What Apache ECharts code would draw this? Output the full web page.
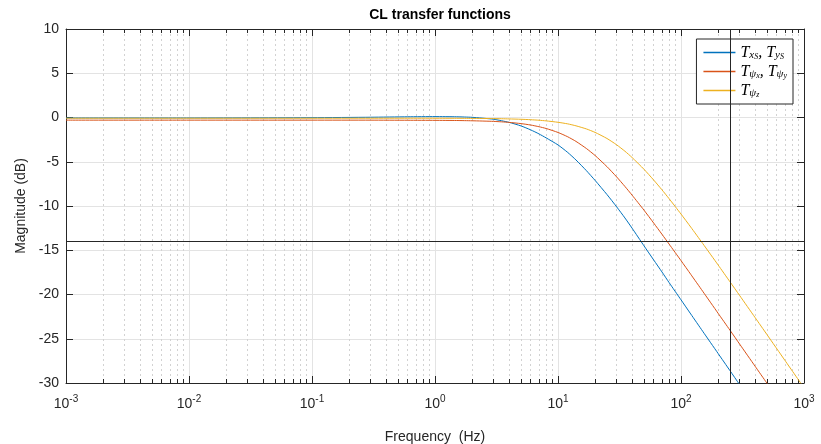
<!DOCTYPE html>
<html><head><meta charset="utf-8">
<script src="https://cdn.jsdelivr.net/npm/echarts@6/dist/echarts.min.js"></script>
<style>html,body{margin:0;padding:0;background:#fff}#c{width:821px;height:444px}</style>
</head><body><div id="c"></div><script>
// ---- data ----
const freqHz = [0.001, 0.01, 0.1, 0.3, 0.6, 1, 1.5, 2, 3, 4, 5, 6, 7, 8, 10, 12, 14, 17, 20, 25, 30, 35, 40, 50, 60, 70, 80, 100, 120, 150, 200, 250, 300, 400, 500, 700, 1000];
const magTxy = [-0.05, -0.05, -0.02, 0.03, 0.08, 0.1, 0.08, 0.02, -0.2, -0.55, -0.95, -1.4, -1.85, -2.3, -3.1, -3.95, -4.8, -6.0, -7.1, -8.7, -10.1, -11.35, -12.5, -14.5, -16.1, -17.45, -18.65, -20.6, -22.2, -24.15, -26.65, -28.6, -30.2, -32.7, -34.65, -37.55, -40.65];
const magTpsixy = [-0.3, -0.3, -0.3, -0.3, -0.31, -0.32, -0.34, -0.37, -0.44, -0.55, -0.69, -0.85, -1.04, -1.24, -1.69, -2.18, -2.7, -3.5, -4.29, -5.55, -6.72, -7.79, -8.77, -10.47, -11.93, -13.19, -14.3, -16.17, -17.72, -19.63, -22.11, -24.03, -25.61, -28.1, -30.03, -32.96, -36.06];
const magTpsiz = [-0.08, -0.08, -0.08, -0.08, -0.08, -0.085, -0.09, -0.1, -0.12, -0.16, -0.2, -0.25, -0.31, -0.38, -0.54, -0.72, -0.94, -1.29, -1.68, -2.37, -3.09, -3.81, -4.52, -5.85, -7.07, -8.17, -9.17, -10.91, -12.38, -14.23, -16.65, -18.56, -20.12, -22.6, -24.53, -27.45, -30.54];
const seriesNames = ['Txy', 'Tpsixy', 'Tpsiz'];
const legendLabels = {
  Txy: '{m|T}{s|x}{ss|S}{m|, T}{s|y}{ss|S}',
  Tpsixy: '{m|T}{s|ψ}{ss|x}{m|, T}{s|ψ}{ss|y}',
  Tpsiz: '{m|T}{s|ψ}{ss|z}'
};
const refLevelDb = -14;
const refFreqHz = 250;
const decades = [0.001, 0.01, 0.1, 1, 10, 100];
const minorMult = [2, 3, 4, 5, 6, 7, 8, 9];
const minorFreq = [];
decades.forEach(d => minorMult.forEach(m => minorFreq.push(+(d * m).toPrecision(3))));

// ---- chart ----
const FONT = '"Liberation Sans", Arial, Helvetica, sans-serif';
const SERIF = '"Liberation Serif", "DejaVu Serif", serif';
const INK = '#262626';
const colors = ['#0072BD', '#D95319', '#EDB120'];
const pairs = arr => freqHz.map((f, i) => [f, arr[i]]);

const chart = echarts.init(document.getElementById('c'), null, {renderer: 'canvas'});
const logBase = {type: 'log', logBase: 10, min: 0.001, max: 1000, gridIndex: 0};
chart.setOption({
  animation: false,
  backgroundColor: '#fff',
  title: {
    text: 'CL transfer functions', left: 435, textAlign: 'center', top: 3,
    textStyle: {fontFamily: FONT, fontSize: 14, fontWeight: 'bold', color: '#000'}
  },
  grid: {left: 66, right: 17, top: 29, bottom: 61, containLabel: false, outerBoundsMode: 'none'},
  legend: {
    data: seriesNames, orient: 'vertical', right: 28, top: 39,
    icon: 'rect', itemWidth: 32, itemHeight: 1.5, itemGap: 2,
    padding: [5, 6, 5, 7],
    borderColor: INK, borderWidth: 1, backgroundColor: '#fff', borderRadius: 0,
    formatter: n => legendLabels[n],
    textStyle: {
      color: '#000', lineHeight: 17,
      rich: {
        m: {fontFamily: SERIF, fontStyle: 'italic', fontSize: 16, lineHeight: 17, color: '#000'},
        s: {fontFamily: SERIF, fontStyle: 'italic', fontSize: 11, lineHeight: 6, verticalAlign: 'bottom', color: '#000'},
        ss: {fontFamily: SERIF, fontStyle: 'italic', fontSize: 8, lineHeight: 2, verticalAlign: 'bottom', color: '#000'}
      }
    }
  },
  xAxis: [
    Object.assign({}, logBase, {
      position: 'bottom',
      axisLine: {show: true, onZero: false, lineStyle: {color: INK, width: 1}},
      axisTick: {show: true, inside: true, length: 7, lineStyle: {color: INK}},
      axisLabel: {
        margin: 11,
        formatter: v => '{b|10}{e|' + Math.round(Math.log10(v)) + '}',
        rich: {
          b: {fontFamily: FONT, fontSize: 14, color: INK, lineHeight: 20},
          e: {fontFamily: FONT, fontSize: 10, color: INK, lineHeight: 10, verticalAlign: 'top'}
        }
      },
      splitLine: {show: true, lineStyle: {color: '#e3e3e3', width: 1}},
      name: 'Frequency  (Hz)', nameLocation: 'middle', nameGap: 47,
      nameTextStyle: {fontFamily: FONT, fontSize: 14, color: INK}
    }),
    Object.assign({}, logBase, {
      position: 'top',
      axisLine: {show: true, onZero: false, lineStyle: {color: INK, width: 1}},
      axisTick: {show: true, inside: true, length: 7, lineStyle: {color: INK}},
      axisLabel: {show: false}, splitLine: {show: false}
    }),
    Object.assign({}, logBase, {
      position: 'bottom',
      axisLine: {show: false, onZero: false},
      axisTick: {show: true, inside: true, length: 4, lineStyle: {color: INK}, customValues: minorFreq},
      axisLabel: {show: false},
      splitLine: {show: true, lineStyle: {type: [2, 3], color: '#d2d2d2', width: 1}}
    }),
    Object.assign({}, logBase, {
      position: 'top',
      axisLine: {show: false, onZero: false},
      axisTick: {show: true, inside: true, length: 4, lineStyle: {color: INK}, customValues: minorFreq},
      axisLabel: {show: false}, splitLine: {show: false}
    })
  ],
  yAxis: [
    {
      type: 'value', min: -30, max: 10, interval: 5, position: 'left',
      axisLine: {show: true, onZero: false, lineStyle: {color: INK, width: 1}},
      axisTick: {show: true, inside: true, length: 7, lineStyle: {color: INK}},
      axisLabel: {fontFamily: FONT, fontSize: 14, color: INK, margin: 7},
      splitLine: {show: true, lineStyle: {color: '#e3e3e3', width: 1}},
      name: 'Magnitude (dB)', nameLocation: 'middle', nameGap: 38, nameRotate: 90,
      nameTextStyle: {fontFamily: FONT, fontSize: 14, color: INK}
    },
    {
      type: 'value', min: -30, max: 10, interval: 5, position: 'right',
      axisLine: {show: true, onZero: false, lineStyle: {color: INK, width: 1}},
      axisTick: {show: true, inside: true, length: 7, lineStyle: {color: INK}},
      axisLabel: {show: false}, splitLine: {show: false}
    }
  ],
  series: [
    {name: 'Txy', type: 'line', data: pairs(magTxy), symbol: 'none', smooth: 0.2, clip: true,
     lineStyle: {color: colors[0], width: 1}, itemStyle: {color: colors[0]}},
    {name: 'Tpsixy', type: 'line', data: pairs(magTpsixy), symbol: 'none', smooth: 0.2, clip: true,
     lineStyle: {color: colors[1], width: 1}, itemStyle: {color: colors[1]}},
    {name: 'Tpsiz', type: 'line', data: pairs(magTpsiz), symbol: 'none', smooth: 0.2, clip: true,
     lineStyle: {color: colors[2], width: 1}, itemStyle: {color: colors[2]}},
    {
      name: 'refLines', type: 'line', data: [], z: 4, silent: true,
      markLine: {
        silent: true, symbol: 'none', label: {show: false}, animation: false,
        lineStyle: {type: 'solid', color: INK, width: 1},
        data: [{yAxis: refLevelDb}, {xAxis: refFreqHz}]
      }
    }
  ]
});
</script></body></html>
